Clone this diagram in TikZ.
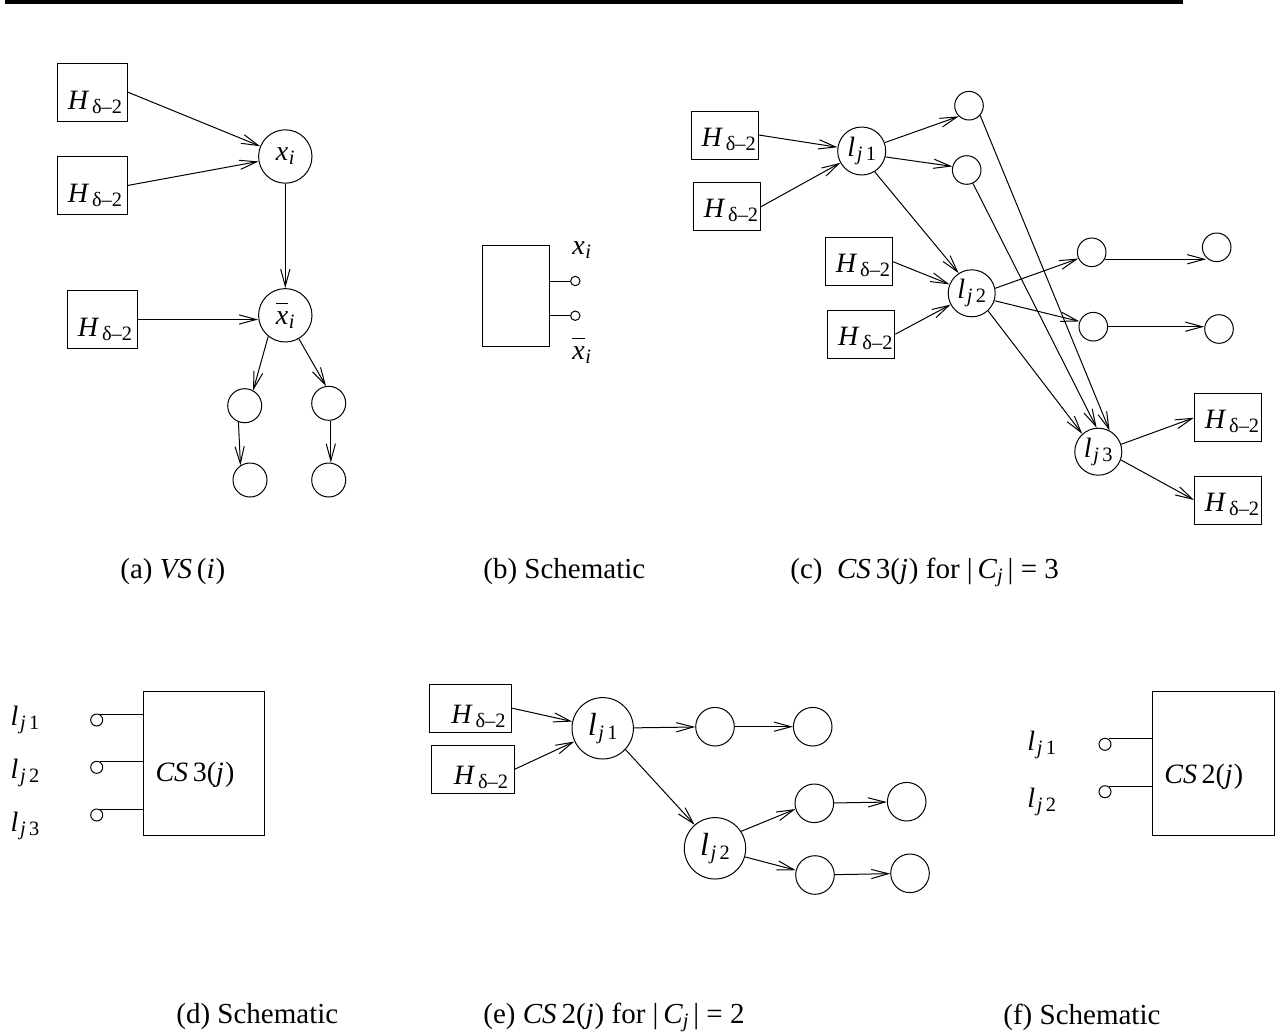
\documentclass[tikz,border=0pt]{standalone}
\usepackage{fontspec}
\setmainfont{Liberation Serif}
\usetikzlibrary{arrows.meta}

% lowered, smaller index text
\newcommand\sbs[1]{\raisebox{-2pt}{\fontsize{10.2}{11}\selectfont #1}}
\newcommand\Hd{\textit{H}\kern1.4pt\sbs{δ–2}}
\newcommand\xvar{\textit{x}\kern0.3pt\sbs{\textit{i}}}
\newcommand\xneg{$\overline{\mbox{\vphantom{H}\textit{x}}}$\kern0.3pt\sbs{\textit{i}}}
\newcommand\lj[1]{\textit{l}\kern0.8pt\sbs{\textit{j}\,#1}}
\newcommand\CSj[1]{\textit{CS}\,#1(\textit{j}\kern0.6pt)}

\tikzset{
  arr/.style={-{Straight Barb[length=8.5pt,width=4.6pt]}, line width=0.5pt},
  wire/.style={line width=0.5pt},
  cir/.style={circle, draw, line width=0.5pt, inner sep=0pt, minimum size=#1,
              font=\fontsize{14}{16}\selectfont},
  hbox/.style n args={2}{draw, line width=0.5pt, inner sep=0pt,
              minimum width=#1, minimum height=#2},
  lbl/.style={inner sep=0pt, font=\fontsize{14}{16}\selectfont},
  captext/.style={inner sep=0pt, anchor=west, font=\fontsize{14.5}{16}\selectfont},
}

\begin{document}
\begin{tikzpicture}[x=0.5pt, y=-0.5pt]
\useasboundingbox (0,0) rectangle (1285,1034);

% heading rule
\coordinate (ruleL) at (5,2);
\coordinate (ruleR) at (1183,2);
\draw[line width=2pt] (ruleL) -- (ruleR);

% ---------------- (a) variable gadget
\node[hbox={35pt}{29pt}] (a1) at (92,92) {};
\node[hbox={35pt}{29pt}] (a2) at (92,185.5) {};
\node[hbox={35pt}{29pt}] (a3) at (102,319.5) {};
\node[lbl] (a1t) at ([shift={(3,10)}]a1) {\Hd};
\node[lbl] (a2t) at ([shift={(3,10)}]a2) {\Hd};
\node[lbl] (a3t) at ([shift={(3,10)}]a3) {\Hd};
\node[cir=26.7pt] (ax) at (285.3,156.5) {\xvar};
\node[cir=26.7pt] (axb) at (285.3,315.3) {\xneg};
\node[cir=17pt] (s1) at (244.7,405.7) {};
\node[cir=17pt] (s2) at (328.7,403.3) {};
\node[cir=17pt] (s3) at (250,480) {};
\node[cir=17pt] (s4) at (328.7,480) {};
\draw[arr] (a1.east) -- (ax);
\draw[arr] (a2.east) -- (ax);
\draw[arr] (a3.east) -- (a3.east -| axb.west);
\draw[arr] (ax) -- (axb);
\draw[arr] (axb.-129) -- (s1.61);
\draw[arr] (axb.-60) -- (s2.99);
\draw[arr] (s1.-111) -- (s3.123);
\draw[arr] (s2.-83) -- (s4.83);

% ---------------- (b) schematic
\node[hbox={33.5pt}{50.5pt}] (bb) at (515.8,295.5) {};
\node[circle, draw, wire, inner sep=0pt, minimum size=4.7pt] (bo1) at (575.3,281) {};
\node[circle, draw, wire, inner sep=0pt, minimum size=4.7pt] (bo2) at (575.3,315.7) {};
\draw[wire] (bo1.west) -- (bo1.west -| bb.east);
\draw[wire] (bo2.west) -- (bo2.west -| bb.east);
\node[lbl] (bx) at (581.7,250) {\xvar};
\node[lbl] (bxb) at (581.7,350) {\xneg};

% ---------------- (c) clause gadget, three literals
\node[hbox={33.5pt}{24pt}] (c1) at (724.7,135) {};
\node[hbox={33.5pt}{24pt}] (c2) at (727,206.7) {};
\node[hbox={33.5pt}{24pt}] (c3) at (859,261.7) {};
\node[hbox={33.5pt}{24pt}] (c4) at (861.3,334.2) {};
\node[hbox={33.5pt}{24pt}] (r1) at (1228,417.7) {};
\node[hbox={33.5pt}{24pt}] (r2) at (1228,500) {};
\foreach \b in {c1,c2,c3,c4,r1,r2}
  \node[lbl] (\b t) at ([shift={(4,4)}]\b) {\Hd};
\node[cir=24pt] (lj1) at (861.7,151) {\lj{1}};
\node[cir=23.5pt] (lj2) at (971.7,293.3) {\lj{2}};
\node[cir=23.5pt] (lj3) at (1098.3,451.7) {\lj{3}};
\node[cir=14.3pt] (o1) at (969,105.7) {};
\node[cir=14.3pt] (o2) at (966.7,170) {};
\node[cir=14.3pt] (p1) at (1091.7,252.3) {};
\node[cir=14.3pt] (q1) at (1216.7,247.3) {};
\node[cir=14.3pt] (p2) at (1093.3,326.7) {};
\node[cir=14.3pt] (q2) at (1219,329) {};
\draw[arr] (c1.east) -- (lj1);
\draw[arr] (c2.east) -- (lj1);
\draw[arr] (lj1.20) -- (o1.-134);
\draw[arr] (lj1.-14) -- (o2.166);
\draw[arr] (lj1.-58) -- (lj2.123);
\draw[arr] (c3.east) -- (lj2);
\draw[arr] (c4.east) -- (lj2);
\draw[arr] (lj2.12) -- (p1.-155);
\draw[arr] (lj2.-18) -- (p2.159);
\draw[arr] (lj2.-47) -- (lj3.132);
\draw[arr] (o1.-41) -- (lj3.62);
\draw[arr] (o2.-65) -- (lj3.94);
\draw[arr] (p1.-28) -- (p1.-28 -| q1.south west);
\draw[arr] (p2) -- (p2 -| q2.west);
\draw[arr] (lj3.18) -- (r1.west);
\draw[arr] (lj3.-20) -- (r2.west);

% ---------------- (d) schematic of CS3
\node[hbox={60.3pt}{71.7pt}] (db) at (203.7,763.3) {};
\node[lbl] (dbt) at (195,775) {\CSj{3}};
\node[circle, draw, wire, inner sep=0pt, minimum size=6pt] (d1) at (96.7,720) {};
\node[circle, draw, wire, inner sep=0pt, minimum size=6pt] (d2) at (96.7,767.3) {};
\node[circle, draw, wire, inner sep=0pt, minimum size=6pt] (d3) at (96.7,815) {};
\draw[wire] (d1.55) -- (d1.55 -| db.west);
\draw[wire] (d2.55) -- (d2.55 -| db.west);
\draw[wire] (d3.55) -- (d3.55 -| db.west);
\node[lbl] (dl1) at (25,720) {\lj{1}};
\node[lbl] (dl2) at (25,773) {\lj{2}};
\node[lbl] (dl3) at (25,826) {\lj{3}};

% ---------------- (e) clause gadget, two literals
\node[hbox={41.3pt}{24.2pt}] (e1) at (470.5,708.2) {};
\node[hbox={41.3pt}{24.2pt}] (e2) at (473,769.2) {};
\node[lbl] (e1t) at ([shift={(8,8)}]e1) {\Hd};
\node[lbl] (e2t) at ([shift={(8,8)}]e2) {\Hd};
\node[cir=30.7pt, font=\fontsize{16}{18}\selectfont] (ej1) at (602.7,728.3) {\lj{1}};
\node[cir=30.7pt, font=\fontsize{16}{18}\selectfont] (ej2) at (715,848.3) {\lj{2}};
\node[cir=19.3pt] (eu1) at (715,726.7) {};
\node[cir=19.3pt] (eu2) at (812.7,726.7) {};
\node[cir=19.3pt] (ev1) at (814.3,803.3) {};
\node[cir=19.3pt] (ev2) at (906.7,801.7) {};
\node[cir=19.3pt] (ew1) at (815,875) {};
\node[cir=19.3pt] (ew2) at (910,873.3) {};
\draw[arr] (e1.east) -- (ej1);
\draw[arr] (e2.east) -- (ej1);
\draw[arr] (ej1) -- (eu1);
\draw[arr] (eu1) -- (eu2);
\draw[arr] (ej1.-43) -- (ej2.131);
\draw[arr] (ej2.33) -- (ev1.-163);
\draw[arr] (ej2.-16) -- (ew1.166);
\draw[arr] (ev1) -- (ev2);
\draw[arr] (ew1) -- (ew2);

% ---------------- (f) schematic of CS2
\node[hbox={60.8pt}{71.7pt}] (fb) at (1213.2,763.3) {};
\node[lbl] (fbt) at (1203.8,776.7) {\CSj{2}};
\node[circle, draw, wire, inner sep=0pt, minimum size=6pt] (f1) at (1105,744.3) {};
\node[circle, draw, wire, inner sep=0pt, minimum size=6pt] (f2) at (1105,791.7) {};
\draw[wire] (f1.55) -- (f1.55 -| fb.west);
\draw[wire] (f2.55) -- (f2.55 -| fb.west);
\node[lbl] (fl1) at (1041.7,745) {\lj{1}};
\node[lbl] (fl2) at (1041.7,801.7) {\lj{2}};

% ---------------- captions
\node[captext] (capa) at (120,572) {(a) \textit{VS}\,(\textit{i}\kern0.5pt)};
\node[captext] (capb) at (483,572) {(b) Schematic};
\node[captext] (capc) at (790,572) {(c)\ \ \textit{CS}\,3(\textit{j}\kern0.5pt) for \textbar\,\textit{C}\sbs{\textit{j}}\,\textbar\ = 3};
\node[captext] (capd) at (176,1017) {(d) Schematic};
\node[captext] (cape) at (483,1017) {(e) \textit{CS}\,2(\textit{j}\kern0.5pt) for \textbar\,\textit{C}\sbs{\textit{j}}\,\textbar\ = 2};
\node[captext] (capf) at (1003,1017) {(f) Schematic};
\end{tikzpicture}
\end{document}
